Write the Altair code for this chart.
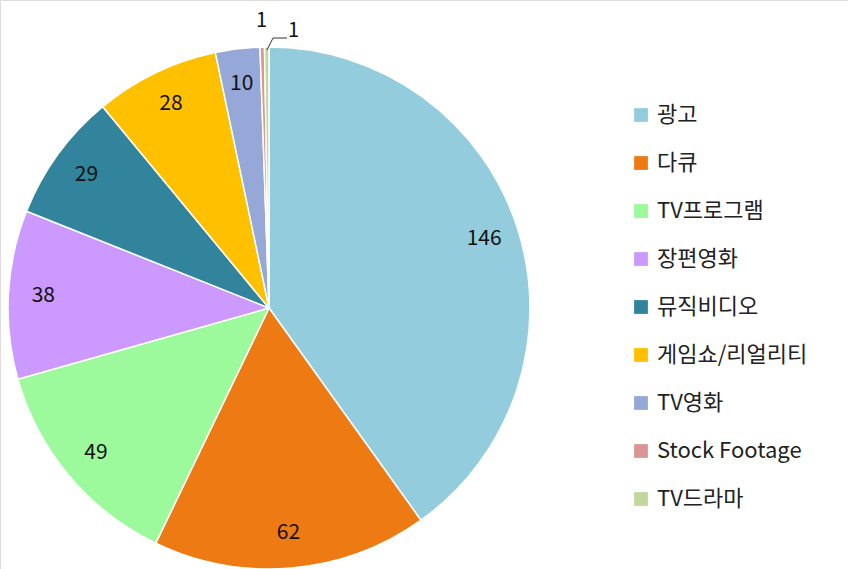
import altair as alt
import pandas as pd

categories = ["광고", "다큐", "TV프로그램", "장편영화", "뮤직비디오", "게임쇼/리얼리티", "TV영화", "Stock Footage", "TV드라마"]
values = [146, 62, 49, 38, 29, 28, 10, 1, 1]
colors = ["#93CDDD", "#EE7A14", "#9CFA9C", "#CC99FF", "#31849B", "#FFC000", "#95A8D8", "#D99694", "#C3D69B"]

df = pd.DataFrame({"cat": categories, "value": values, "idx": list(range(len(values)))})

font = "Noto Sans CJK KR"
CX, CY = 269, 308

base = alt.Chart(df).encode(
    theta=alt.Theta("value:Q", stack=True),
    order=alt.Order("idx:Q", sort="ascending"),
    x=alt.value(CX),
    y=alt.value(CY),
)

pie = base.mark_arc(outerRadius=261, stroke="white", strokeWidth=1.5).encode(
    color=alt.Color(
        "cat:N",
        scale=alt.Scale(domain=categories, range=colors),
        sort=categories,
        legend=alt.Legend(
            title=None,
            orient="none",
            legendX=630,
            legendY=104,
            symbolType="square",
            symbolSize=190,
            symbolStrokeWidth=0,
            labelFont=font,
            labelFontSize=22,
            labelColor="#222222",
            rowPadding=26,
            labelOffset=5,
        ),
    )
)

main_labels = base.transform_calculate(
    lab="datum.value > 1 ? datum.value + '' : ''"
).mark_text(radius=226, font=font, fontSize=21, color="#111111").encode(text="lab:N")

sf_label = base.transform_calculate(
    lab="datum.cat == 'Stock Footage' ? '1' : ''"
).mark_text(radius=287, font=font, fontSize=20, color="#111111").encode(text="lab:N")

dr_label = base.transform_calculate(
    lab="datum.cat == 'TV드라마' ? '1' : ''"
).mark_text(radius=277, dx=27, font=font, fontSize=20, color="#111111").encode(text="lab:N")

leader1 = alt.Chart(df.head(1)).mark_rule(color="#333333", strokeWidth=1).encode(
    x=alt.value(267), x2=alt.value(273), y=alt.value(50), y2=alt.value(38)
)
leader2 = alt.Chart(df.head(1)).mark_rule(color="#333333", strokeWidth=1).encode(
    x=alt.value(273), x2=alt.value(287), y=alt.value(38), y2=alt.value(38)
)

chart = alt.layer(pie, main_labels, sf_label, dr_label, leader1, leader2).properties(
    width=848, height=569, padding=0, autosize=alt.AutoSizeParams(type="none")
).configure_view(stroke=None).configure(background="white")

chart.save("out.html", embed_options={"renderer": "svg", "actions": False})
